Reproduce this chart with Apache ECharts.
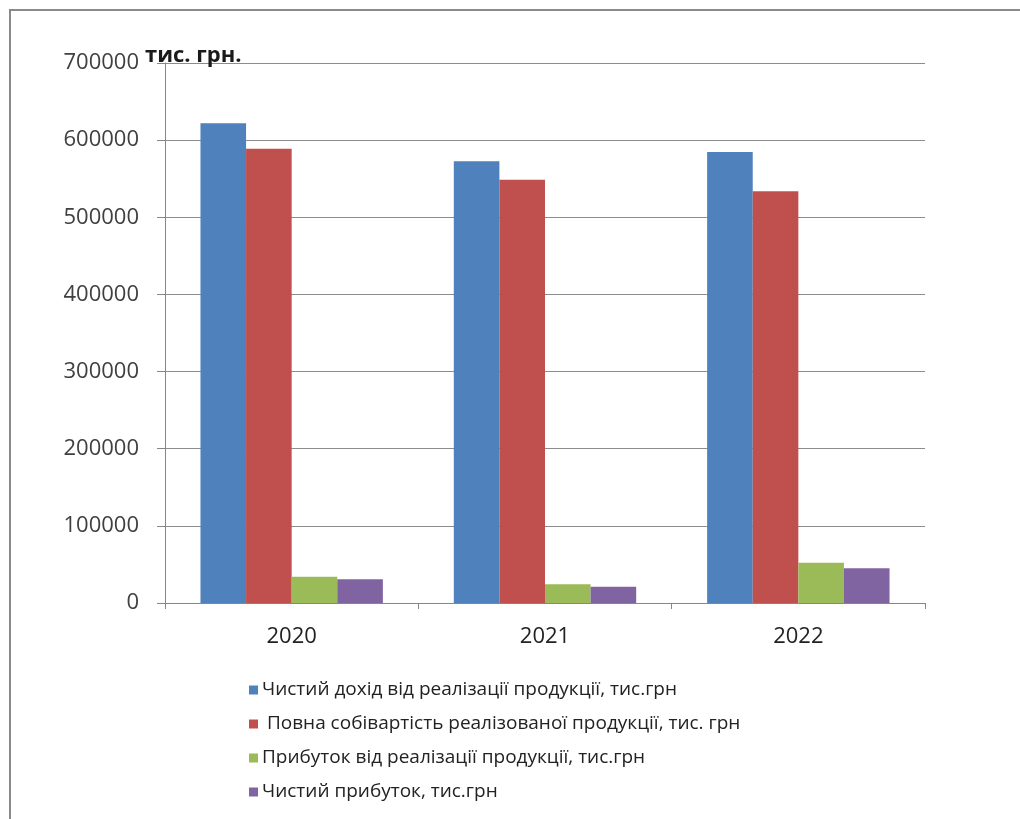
<!DOCTYPE html>
<html>
<head>
<meta charset="utf-8">
<script src="https://cdn.jsdelivr.net/npm/echarts@6/dist/echarts.min.js"></script>
<style>
  html, body { margin: 0; padding: 0; background: #ffffff; }
  #chart { width: 1020px; height: 819px; }
</style>
</head>
<body>
<div id="chart"></div>
<script>
// Years on the category axis
const years = ['2020', '2021', '2022'];

// Series names (legend entries)
const seriesNames = [
  'Чистий дохід від реалізації продукції, тис.грн',
  ' Повна собівартість реалізованої продукції, тис. грн',
  'Прибуток від реалізації продукції, тис.грн',
  'Чистий прибуток, тис.грн'
];

// Values, thousand UAH
const netRevenue   = [622000, 572500, 584600];
const fullCost     = [589000, 548800, 533700];
const salesProfit  = [34000, 24200, 52200];
const netProfit    = [30700, 21100, 45000];

const seriesValues = [netRevenue, fullCost, salesProfit, netProfit];
const colors = ['#4F81BD', '#C0504D', '#9BBB59', '#8064A2'];

// Value-axis range
const yMin = 0, yMax = 700000, yStep = 100000;
const unitLabel = 'тис. грн.';

const FONT = '"Open Sans", "DejaVu Sans", sans-serif';

const chart = echarts.init(document.getElementById('chart'), null, { renderer: 'canvas' });

chart.setOption({
  backgroundColor: '#ffffff',
  animation: false,
  color: colors,
  textStyle: { fontFamily: FONT },
  title: {
    text: unitLabel,
    left: 140,
    top: 40,
    textStyle: { fontFamily: FONT, fontSize: 22, fontWeight: 'bold', color: '#1a1a1a' }
  },
  graphic: [
    // frame lines along the top and left edges
    { type: 'line', shape: { x1: 9, y1: 10, x2: 1020, y2: 10 }, style: { stroke: '#8a8a8a', lineWidth: 2 } },
    { type: 'line', shape: { x1: 10, y1: 9, x2: 10, y2: 819 }, style: { stroke: '#8a8a8a', lineWidth: 2 } }
  ],
  grid: { left: 165, right: 95, top: 63, bottom: 216, containLabel: false },
  legend: {
    orient: 'vertical',
    left: 244,
    top: 675,
    itemWidth: 9,
    itemHeight: 9,
    itemGap: 14,
    icon: 'rect',
    data: seriesNames,
    textStyle: { fontFamily: FONT, fontSize: 19, lineHeight: 20, color: '#222222', padding: [0, 0, 0, -1] }
  },
  xAxis: {
    type: 'category',
    data: years,
    axisLine: { lineStyle: { color: '#868686', width: 1 } },
    axisTick: { show: true, length: 6, interval: 0, alignWithLabel: false, lineStyle: { color: '#868686' } },
    axisLabel: { fontFamily: FONT, fontSize: 22, color: '#222222', margin: 23 },
    splitLine: { show: false }
  },
  yAxis: {
    type: 'value',
    min: yMin,
    max: yMax,
    interval: yStep,
    axisLine: { show: true, lineStyle: { color: '#868686', width: 1 } },
    axisTick: { show: true, inside: false, length: 8, lineStyle: { color: '#868686', width: 1 } },
    axisLabel: { fontFamily: FONT, fontSize: 22, color: '#404040', margin: 26, formatter: v => String(v) },
    splitLine: { show: true, lineStyle: { color: '#8c8c8c', width: 1 } }
  },
  series: seriesValues.map((vals, i) => ({
    name: seriesNames[i],
    type: 'bar',
    data: vals,
    barGap: '0%',
    barCategoryGap: '28%',
    itemStyle: { color: colors[i] }
  }))
});
</script>
</body>
</html>
